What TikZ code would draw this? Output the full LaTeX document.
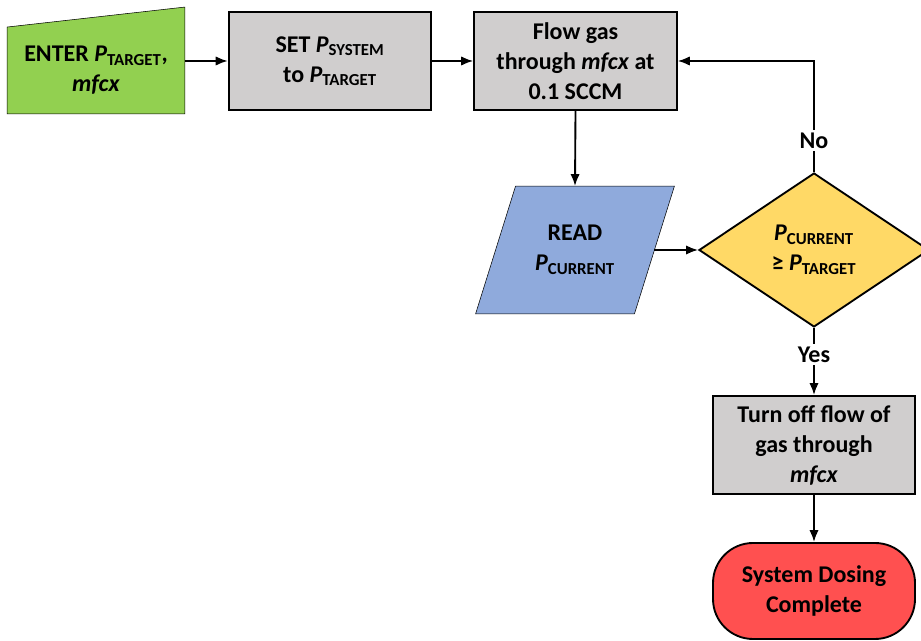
\documentclass[tikz,border=0pt]{standalone}
\usepackage{fontspec}
\setmainfont{Carlito}
\usetikzlibrary{shapes.geometric,arrows.meta,backgrounds}

\definecolor{inputgreen}{HTML}{92D050}
\definecolor{boxgrey}{HTML}{D0CECE}
\definecolor{readblue}{HTML}{8FAADC}
\definecolor{condyellow}{HTML}{FFD966}
\definecolor{endred}{HTML}{FF5050}

\newcommand{\pvar}[1]{\textit{P}\textsubscript{#1}}

\begin{document}
\begin{tikzpicture}[x=0.75pt,y=0.75pt,>={Latex[length=9pt,width=7pt]},line width=1.4pt,
  every node/.style={font=\fontsize{18}{22.5}\selectfont\bfseries,align=center,inner sep=0pt},
  box/.style={draw,fill=boxgrey,minimum width=152pt,minimum height=73.5pt},
  decision/.style={draw,fill=condyellow,diamond,aspect=1.5,minimum width=172.5pt,minimum height=115.5pt},
  term/.style={draw,fill=endred,rounded corners=30pt,minimum width=151.5pt,minimum height=72pt},
  edgelabel/.style={fill=white,inner sep=2pt}]

\useasboundingbox (0,0) rectangle (921,641);

\node[minimum width=132pt,minimum height=63.75pt] (enter) at (96,570.5) {ENTER \pvar{TARGET},\\\textit{mfcx}};
\node[box] (set)  at (330,580) {SET \pvar{SYSTEM}\\to \pvar{TARGET}};
\node[box] (flow) at (575.5,580) {Flow gas\\through \textit{mfcx} at\\0.1 SCCM};
\node[minimum width=117.75pt,minimum height=94.5pt] (read) at (575,391) {READ\\\pvar{CURRENT}};
\node[decision] (cond) at (814,391) {\pvar{CURRENT}\\≥ \pvar{TARGET}};
\node[box] (off)  at (814,196) {Turn off flow of\\gas through\\\textit{mfcx}};
\node[term] (done) at (814,50) {System Dosing\\Complete};

\begin{scope}[on background layer]
\draw[fill=inputgreen] (enter.south west) -- (enter.south east) -- ([yshift=15pt]enter.north east) -- (enter.north west) -- cycle;
\draw[fill=readblue] ([xshift=15pt]read.north west) -- ([xshift=15pt]read.north east) -- ([xshift=-15pt]read.south east) -- ([xshift=-15pt]read.south west) -- cycle;
\end{scope}

\draw[->] (enter.east |- set.west) -- (set.west);
\draw[->] (set.east) -- (flow.west);
\draw[->] (flow.south) -- (read.north);
\draw[->] (read.east) -- (cond.west);
\draw[->] (cond.north) |- node[pos=0.14,edgelabel]{No} (flow.east);
\draw[->] (cond.south) -- node[pos=0.4,edgelabel]{Yes} (off.north);
\draw[->] (off.south) -- (done.north);

\end{tikzpicture}
\end{document}
